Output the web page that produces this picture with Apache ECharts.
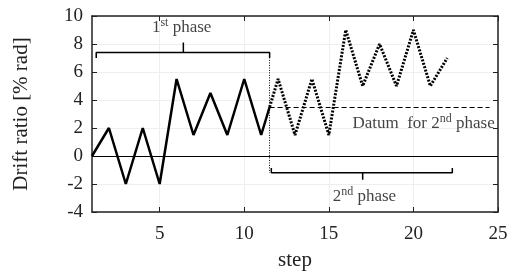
<!DOCTYPE html>
<html>
<head>
<meta charset="utf-8">
<script src="https://cdn.jsdelivr.net/npm/echarts@6/dist/echarts.min.js"></script>
<style>
html,body{margin:0;padding:0;background:#fff;}
#chart{width:514px;height:280px;}
</style>
</head>
<body>
<div id="chart"></div>
<script>
// drift ratio protocol, first phase (solid) and second phase (dotted)
var phase1 = [[1,0],[2,2],[3,-2],[4,2],[5,-2],[6,5.5],[7,1.5],[8,4.5],[9,1.5],[10,5.5],[11,1.5],[11.5,3.5]];
var phase2 = [[11.5,3.5],[12,5.5],[13,1.5],[14,5.5],[15,1.5],[16,9],[17,5],[18,8],[19,5],[20,9],[21,5],[22,7]];
var xTicks = [5,10,15,20,25];
var datumLevel = 3.5;
var splitStep = 11.5;
// brackets (annotation shapes in data units)
var bracket1 = [[1.25,7.0],[1.25,7.4],[11.5,7.4],[11.5,7.0],'-',[6.4,7.4],[6.4,8.1]];
var bracket2 = [[11.6,-0.85],[11.6,-1.2],[22.3,-1.2],[22.3,-0.85],'-',[17,-1.2],[17,-1.7]];
var labels = [
	{value:[6.3,9.2], text:'{a|1}{s|st}{a| phase}'},
	{value:[17.1,-2.9], text:'{a|2}{s|nd}{a| phase}'},
	{value:[20.6,2.3], text:'{a|Datum  for 2}{s|nd}{a| phase}'}
];

var font = 'Liberation Serif';
var myChart = echarts.init(document.getElementById('chart'));
var richText = {
	a:{fontFamily:font, fontSize:17, color:'#111'},
	s:{fontFamily:font, fontSize:12, color:'#111', padding:[0,0,9,0]}
};
var option = {
	animation:false,
	grid:{left:92, right:16, top:16, bottom:68},
	xAxis:[{
		type:'value', min:1, max:25,
		name:'step', nameLocation:'middle', nameGap:38,
		nameTextStyle:{fontFamily:font, fontSize:21, color:'#222'},
		axisLine:{show:true, onZero:false, lineStyle:{color:'#222', width:1.5}},
		axisTick:{show:true, inside:true, customValues:xTicks, lineStyle:{color:'#222'}},
		axisLabel:{customValues:xTicks, margin:13, fontFamily:font, fontSize:19, color:'#222'},
		splitLine:{show:true, customValues:xTicks, lineStyle:{color:'#eeeeee'}}
	},{
		type:'value', min:1, max:25, position:'top',
		axisLine:{show:true, onZero:false, lineStyle:{color:'#222', width:1.5}},
		axisTick:{show:true, inside:true, customValues:xTicks, lineStyle:{color:'#222'}},
		axisLabel:{show:false},
		splitLine:{show:false}
	}],
	yAxis:[{
		type:'value', min:-4, max:10, interval:2,
		name:'Drift ratio [% rad]', nameLocation:'middle', nameGap:60,
		nameTextStyle:{fontFamily:font, fontSize:21, color:'#222'},
		axisLine:{show:true, onZero:false, lineStyle:{color:'#222', width:1.5}},
		axisTick:{show:true, inside:true, lineStyle:{color:'#222'}},
		axisLabel:{margin:9, fontFamily:font, fontSize:19, color:'#222'},
		splitLine:{show:true, lineStyle:{color:'#eeeeee'}}
	},{
		type:'value', min:-4, max:10, interval:2, position:'right',
		axisLine:{show:true, onZero:false, lineStyle:{color:'#222', width:1.5}},
		axisTick:{show:true, inside:true, lineStyle:{color:'#222'}},
		axisLabel:{show:false},
		splitLine:{show:false}
	}],
	series:[{
		name:'1st phase', type:'line', data:phase1, symbol:'none',
		lineStyle:{color:'#000', width:2.5},
		markLine:{
			silent:true, symbol:'none', label:{show:false},
			data:[
				[{coord:[1,0], lineStyle:{color:'#000', width:1, type:'solid'}},{coord:[25,0]}],
				[{coord:[splitStep,datumLevel], lineStyle:{color:'#000', width:1, type:[5,3]}},{coord:[24.5,datumLevel]}],
				[{coord:[splitStep,7.4], lineStyle:{color:'#000', width:1, type:[1,1.5]}},{coord:[splitStep,-1.2]}]
			]
		}
	},{
		name:'2nd phase', type:'line', data:phase2, symbol:'none',
		lineStyle:{color:'#000', width:3, type:[2,1.5]}
	},{
		type:'line', data:bracket1, symbol:'none', connectNulls:false,
		lineStyle:{color:'#000', width:1.5}
	},{
		type:'line', data:bracket2, symbol:'none', connectNulls:false,
		lineStyle:{color:'#000', width:1.5}
	},{
		type:'scatter', symbolSize:0, silent:true,
		data:labels.map(function(l){ return {value:l.value, text:l.text}; }),
		label:{
			show:true, position:'inside', color:'#111',
			formatter:function(p){ return p.data.text; },
			rich:richText
		}
	}]
};
myChart.setOption(option);
</script>
</body>
</html>
